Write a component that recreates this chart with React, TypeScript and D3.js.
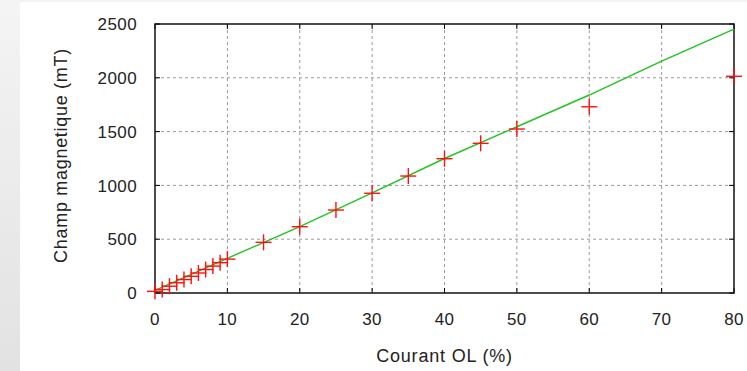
import React from "react";
import * as d3 from "d3";

const courantPct = [0, 1, 2, 3, 4, 5, 6, 7, 8, 9, 10, 15, 20, 25, 30, 35, 40, 45, 50, 60, 80];
const champMesure = [15, 32, 63, 95, 125, 155, 186, 218, 250, 282, 315, 471, 616, 771, 927, 1087, 1248, 1391, 1524, 1731, 2014];
const lineX = [0, 10, 20, 30, 40, 50, 60, 70, 80];
const lineY = [25, 322, 616, 930, 1250, 1545, 1840, 2156, 2453];
const xTicks = [0, 10, 20, 30, 40, 50, 60, 70, 80];
const yTicks = [0, 500, 1000, 1500, 2000, 2500];

const W = 747;
const H = 371;
const L = 155, R = 734, T = 24, B = 293;

export default function App() {
  const x = d3.scaleLinear().domain([0, 80]).range([L, R]);
  const y = d3.scaleLinear().domain([0, 2500]).range([B, T]);
  const line = d3.line<number>().x((d) => x(lineX[d])).y((d) => y(lineY[d]));
  const font = "'Liberation Sans', Arial, sans-serif";
  return (
    <svg width={W} height={H} style={{ position: "absolute", left: 0, top: 0 }} fontFamily={font}>
      <defs>
        <linearGradient id="side" x1="0" y1="0" x2="0" y2="1">
          <stop offset="0" stopColor="#f4f4f4" />
          <stop offset="1" stopColor="#e2e2e2" />
        </linearGradient>
      </defs>
      <rect x={0} y={0} width={W} height={H} fill="#f3f3f3" />
      <rect x={0} y={0} width={20} height={H} fill="url(#side)" />
      <rect x={20} y={2} width={W - 20} height={H - 2} fill="#ffffff" />
      {/* grid */}
      {xTicks.filter((t) => t > 0 && t < 80).map((t) => (
        <line key={"gx" + t} x1={x(t)} x2={x(t)} y1={T} y2={B} stroke="#9a9a9a" strokeWidth={1} strokeDasharray="3,3" />
      ))}
      {yTicks.filter((t) => t > 0 && t < 2500).map((t) => (
        <line key={"gy" + t} x1={L} x2={R} y1={y(t)} y2={y(t)} stroke="#9a9a9a" strokeWidth={1} strokeDasharray="3,3" />
      ))}
      {/* ticks */}
      {xTicks.map((t) => (
        <g key={"tx" + t}>
          <line x1={x(t)} x2={x(t)} y1={B} y2={B - 5} stroke="#000" strokeWidth={1} />
          <line x1={x(t)} x2={x(t)} y1={T} y2={T + 5} stroke="#000" strokeWidth={1} />
          <text x={x(t)} y={325} textAnchor="middle" fontSize={17} letterSpacing={0.4} fill="#222">{t}</text>
        </g>
      ))}
      {yTicks.map((t) => (
        <g key={"ty" + t}>
          <line x1={L} x2={L + 5} y1={y(t)} y2={y(t)} stroke="#000" strokeWidth={1} />
          <line x1={R} x2={R - 5} y1={y(t)} y2={y(t)} stroke="#000" strokeWidth={1} />
          <text x={137} y={y(t)} dy="0.36em" textAnchor="end" fontSize={17} letterSpacing={0.4} fill="#222">{t}</text>
        </g>
      ))}
      <rect x={L} y={T} width={R - L} height={B - T} fill="none" stroke="#111" strokeWidth={1.5} />
      {/* fit line */}
      <path d={line(lineX.map((_, i) => i)) || ""} fill="none" stroke="#22c422" strokeWidth={1.4} />
      {/* points */}
      {courantPct.map((c, i) => (
        <g key={"p" + i} stroke="#ff1010" strokeWidth={1.4}>
          <line x1={x(c) - 8} x2={x(c) + 8} y1={y(champMesure[i])} y2={y(champMesure[i])} />
          <line x1={x(c)} x2={x(c)} y1={y(champMesure[i]) - 8} y2={y(champMesure[i]) + 8} />
        </g>
      ))}
      <text x={(L + R) / 2} y={362} textAnchor="middle" fontSize={18} letterSpacing={0.8} fill="#222">Courant OL (%)</text>
      <text transform={`translate(67,${(T + B) / 2 - 3}) rotate(-90)`} textAnchor="middle" fontSize={18} letterSpacing={0.7} fill="#222">Champ magnetique (mT)</text>
    </svg>
  );
}
